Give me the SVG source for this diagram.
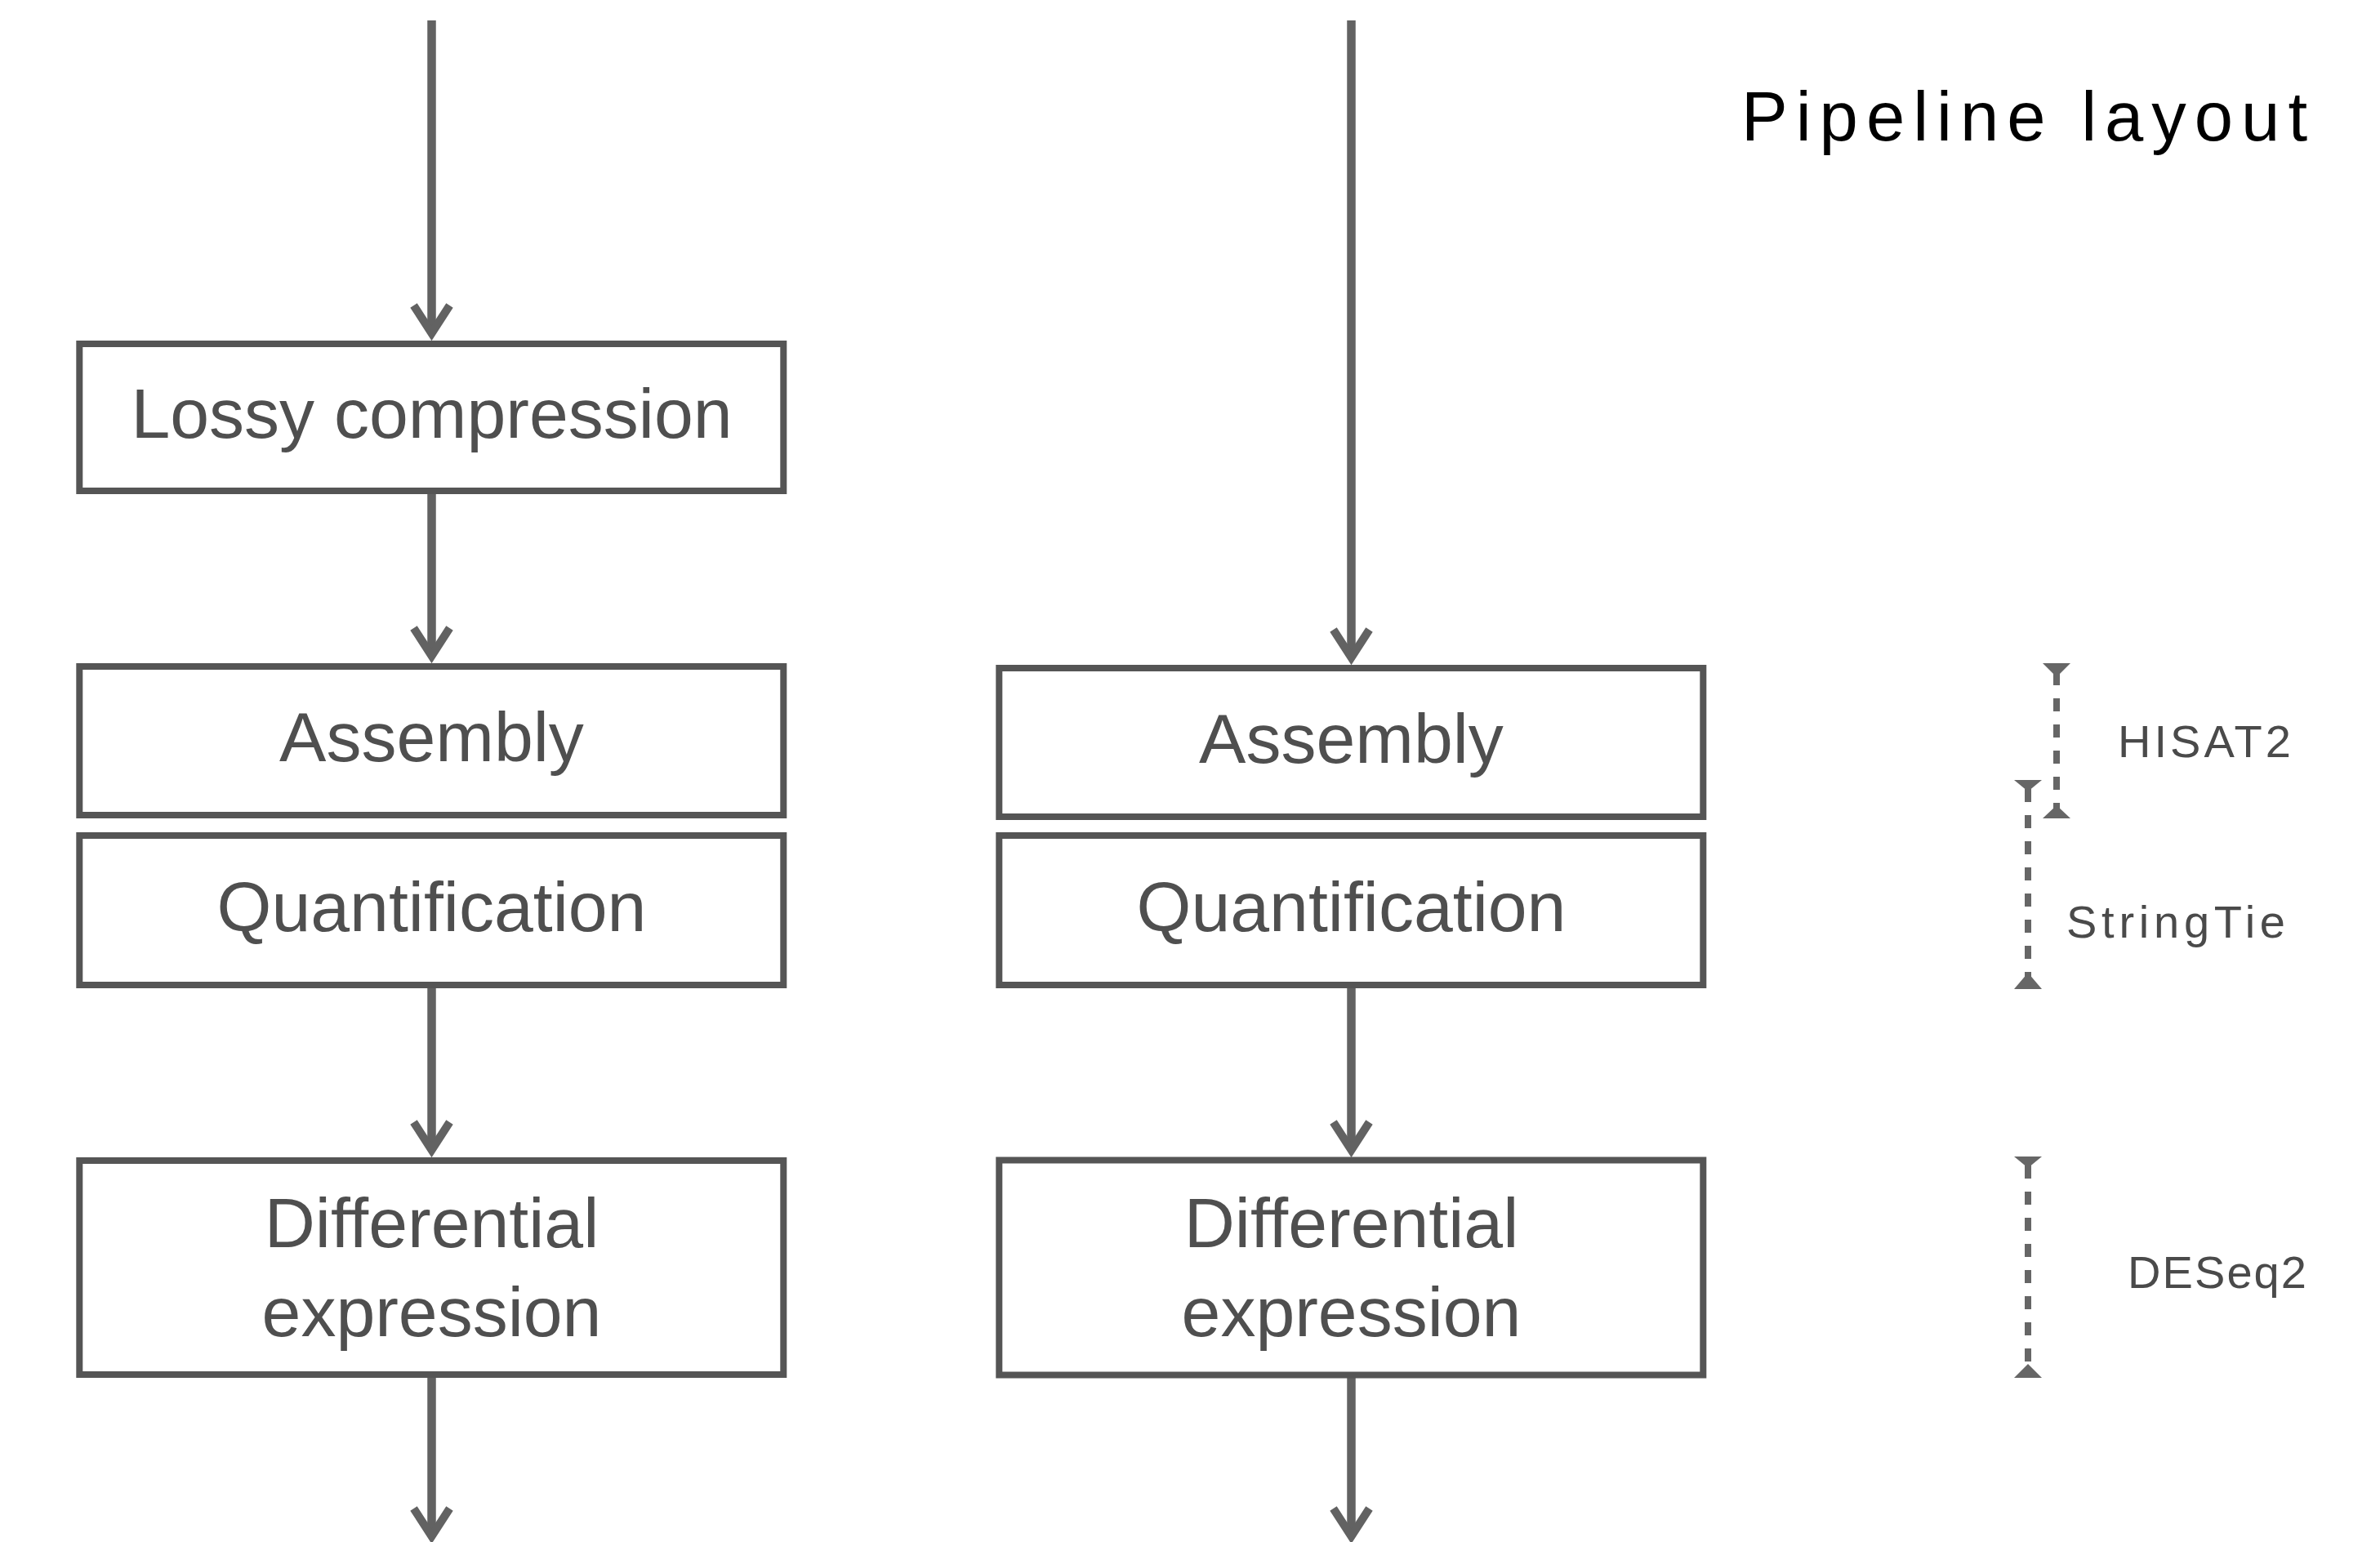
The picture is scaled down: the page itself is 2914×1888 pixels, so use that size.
<svg xmlns="http://www.w3.org/2000/svg" width="2914" height="1888" viewBox="0 0 2914 1888">
<defs>
<style>
.box{fill:#ffffff;stroke:#555555;stroke-width:8}
.lbl{font-family:"Liberation Sans",Arial,sans-serif;font-size:86px;fill:#4f4f4f;text-anchor:middle}
.shaft{fill:none;stroke:#626262;stroke-width:10.5;marker-end:url(#chev)}
.dash{fill:none;stroke:#666666;stroke-width:8;stroke-dasharray:16 16}
.tri{fill:#666666}
.tool{font-family:"Liberation Sans",Arial,sans-serif;font-size:56px;fill:#4a4a4a}
.title{font-family:"Liberation Sans",Arial,sans-serif;font-size:85px;fill:#000000}
</style>
<marker id="chev" markerUnits="userSpaceOnUse" markerWidth="80" markerHeight="80" viewBox="-60 -40 80 80" refX="0" refY="0" orient="auto" overflow="visible">
<path d="M-35,-22 L-1,0 L-35,22" fill="none" stroke="#626262" stroke-width="10" stroke-linejoin="miter"/>
</marker>
</defs>
<rect width="2914" height="1888" fill="#ffffff"/>

<g id="connectors">
<path class="shaft" d="M528.5,25 L528.5,409"/>
<path class="shaft" d="M528.5,605 L528.5,804"/>
<path class="shaft" d="M528.5,1210 L528.5,1409"/>
<path class="shaft" d="M528.5,1687 L528.5,1882"/>
<path class="shaft" d="M1654.5,25 L1654.5,806"/>
<path class="shaft" d="M1654.5,1210 L1654.5,1409"/>
<path class="shaft" d="M1654.5,1687 L1654.5,1882"/>
</g>

<g id="lossy-compression">
<rect class="box" x="97.3" y="421" width="862" height="180"/>
<text class="lbl" x="528.5" y="536">Lossy compression</text>
</g>
<g id="assembly-left">
<rect class="box" x="97.3" y="816" width="862" height="182"/>
<text class="lbl" x="528.5" y="932">Assembly</text>
</g>
<g id="quantification-left">
<rect class="box" x="97.3" y="1023" width="862" height="183"/>
<text class="lbl" x="528.5" y="1140">Quantification</text>
</g>
<g id="differential-left">
<rect class="box" x="97.3" y="1421" width="862" height="262"/>
<text class="lbl" x="528.5" y="1527">Differential</text>
<text class="lbl" x="528.5" y="1636">expression</text>
</g>

<g id="assembly-right">
<rect class="box" x="1223.3" y="818" width="862" height="182"/>
<text class="lbl" x="1654.5" y="934">Assembly</text>
</g>
<g id="quantification-right">
<rect class="box" x="1223.3" y="1023" width="862" height="183"/>
<text class="lbl" x="1654.5" y="1140">Quantification</text>
</g>
<g id="differential-right">
<rect class="box" x="1223.3" y="1420.5" width="862" height="263"/>
<text class="lbl" x="1654.5" y="1527">Differential</text>
<text class="lbl" x="1654.5" y="1636">expression</text>
</g>

<g id="title">
<text class="title" x="2132" y="172" textLength="693" lengthAdjust="spacing">Pipeline layout</text>
</g>

<g id="hisat2">
<path class="dash" d="M2518,823 L2518,1000"/>
<polygon class="tri" points="2501,812 2535,812 2518,829"/>
<polygon class="tri" points="2501,1002 2535,1002 2518,986"/>
<text class="tool" x="2593" y="927" textLength="212" lengthAdjust="spacing">HISAT2</text>
</g>
<g id="stringtie">
<path class="dash" d="M2483,966 L2483,1208"/>
<polygon class="tri" points="2466,955 2500,955 2483,969"/>
<polygon class="tri" points="2466,1211 2500,1211 2483,1191"/>
<text class="tool" x="2530" y="1148" textLength="268" lengthAdjust="spacing">StringTie</text>
</g>
<g id="deseq2">
<path class="dash" d="M2483,1427 L2483,1684"/>
<polygon class="tri" points="2466,1416 2500,1416 2483,1430"/>
<polygon class="tri" points="2466,1687 2500,1687 2483,1670"/>
<text class="tool" x="2605" y="1577" textLength="219" lengthAdjust="spacing">DESeq2</text>
</g>
</svg>
